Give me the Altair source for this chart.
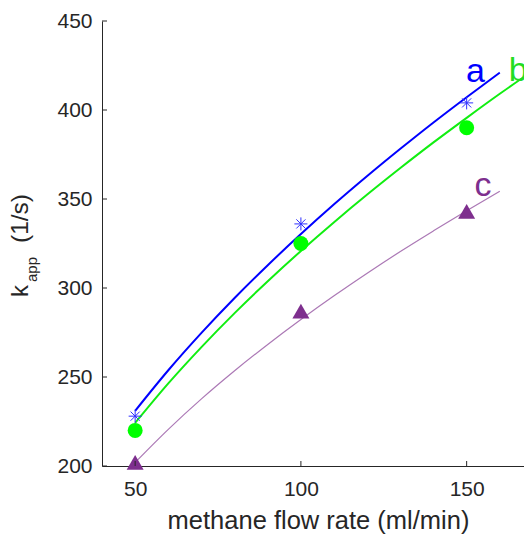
import altair as alt
import pandas as pd

# ---- data ----
curve_x = [50, 60, 70, 80, 90, 100, 110, 120, 130, 140, 150, 160]
curve_a = [231.0, 253.8, 274.8, 294.4, 312.8, 330.3, 347.0, 362.9, 378.2, 393.0, 407.2, 421.0]
curve_b_x = [50, 60, 70, 80, 90, 100, 110, 120, 130, 140, 150, 160, 170]
curve_b = [224.2, 246.4, 266.8, 285.9, 303.8, 320.8, 337.0, 352.5, 367.4, 381.8, 395.6, 409.1, 422.1]
curve_c = [202.0, 220.6, 237.7, 253.5, 268.3, 282.3, 295.6, 308.3, 320.5, 332.1, 343.4, 354.3]

flow = [50, 100, 150]
meas_a = [228, 336, 404]
meas_b = [220, 325, 390]
meas_c = [202, 287, 343]

label_text = ["a", "b", "c"]
label_x = [149.8, 162.7, 152.4]
label_y = [415.7, 416.2, 351.5]

x_ticks = [50, 100, 150]
y_ticks = [200, 250, 300, 350, 400, 450]

BLUE = "#0000FF"
GREEN = "#00FF00"
PURPLE = "#7E2F8E"
AX = "#262626"
FONT = "Liberation Sans"

W, H = 422, 445
xs = alt.Scale(domain=[40, 167.3], nice=False, zero=False)
ys = alt.Scale(domain=[200, 450], nice=False, zero=False)

x_axis = alt.Axis(values=x_ticks, ticks=False, grid=False, domainColor=AX,
                  labelFont=FONT, labelFontSize=21, labelColor=AX, labelPadding=12,
                  title="methane flow rate (ml/min)", titleFont=FONT, titleFontSize=25.5,
                  titleFontWeight="normal", titleColor=AX, titleX=216, titleY=62,
                  titleBaseline="alphabetic", titleAlign="center")
y_axis = alt.Axis(values=y_ticks, ticks=False, grid=False, domainColor=AX,
                  labelFont=FONT, labelFontSize=21, labelColor=AX, labelPadding=10,
                  title=None)

dfa = pd.DataFrame({"x": curve_x, "y": curve_a})
dfb = pd.DataFrame({"x": curve_b_x, "y": curve_b})
dfc = pd.DataFrame({"x": curve_x, "y": curve_c})
dma = pd.DataFrame({"x": flow, "y": meas_a})
dmb = pd.DataFrame({"x": flow, "y": meas_b})
dmc = pd.DataFrame({"x": flow, "y": meas_c})
dl = pd.DataFrame({"t": label_text, "x": label_x, "y": label_y,
                   "c": [BLUE, "#22DD22", PURPLE]})

def enc(ch):
    return ch.encode(x=alt.X("x:Q", scale=xs, axis=x_axis),
                     y=alt.Y("y:Q", scale=ys, axis=y_axis))

line_a = enc(alt.Chart(dfa).mark_line(color=BLUE, strokeWidth=2, clip=True,
                                      interpolate="monotone"))
line_b = enc(alt.Chart(dfb).mark_line(color="#11EE11", strokeWidth=2, clip=True,
                                      interpolate="monotone"))
line_c = enc(alt.Chart(dfc).mark_line(color=PURPLE, strokeWidth=1.2, opacity=0.65,
                                      clip=True, interpolate="monotone"))

asterisk = "M-1,0L1,0M0,-1L0,1M-0.7,-0.7L0.7,0.7M-0.7,0.7L0.7,-0.7"
pt_a = enc(alt.Chart(dma).mark_point(shape=asterisk, size=170, filled=False,
                                      color="#3030FF", strokeWidth=1, opacity=1))
pt_b = enc(alt.Chart(dmb).mark_point(shape="circle", size=225, filled=True,
                                      color=GREEN, opacity=1))
pt_c = enc(alt.Chart(dmc).mark_point(shape="triangle-up", size=289, filled=True,
                                      color=PURPLE, opacity=1))

labels = alt.Chart(dl).mark_text(font=FONT, fontSize=34, align="left",
                                 baseline="alphabetic").encode(
    x=alt.X("x:Q", scale=xs), y=alt.Y("y:Q", scale=ys),
    text="t:N", color=alt.Color("c:N", scale=None))

ytk = alt.Chart(pd.DataFrame({"v": y_ticks})).mark_rule(color=AX, strokeWidth=1).encode(
    y=alt.Y("v:Q", scale=ys), x=alt.value(0), x2=alt.value(5))
xtk = alt.Chart(pd.DataFrame({"v": x_ticks})).mark_rule(color=AX, strokeWidth=1).encode(
    x=alt.X("v:Q", scale=xs), y=alt.value(H), y2=alt.value(H - 5))

ytitle_parts = ["k", "app", "(1/s)"]
t_k = alt.Chart(pd.DataFrame({"t": [ytitle_parts[0]]})).mark_text(
    font=FONT, fontSize=24, angle=270, align="left", baseline="alphabetic", color=AX
).encode(text="t:N", x=alt.value(-74), y=alt.value(276))
t_app = alt.Chart(pd.DataFrame({"t": [ytitle_parts[1]]})).mark_text(
    font=FONT, fontSize=15, angle=270, align="left", baseline="alphabetic", color=AX
).encode(text="t:N", x=alt.value(-65), y=alt.value(261))
t_unit = alt.Chart(pd.DataFrame({"t": [ytitle_parts[2]]})).mark_text(
    font=FONT, fontSize=24.5, angle=270, align="left", baseline="alphabetic", color=AX
).encode(text="t:N", x=alt.value(-74), y=alt.value(222))

chart = alt.layer(
    line_c, line_b, line_a, pt_c, pt_b, pt_a, labels, ytk, xtk, t_k, t_app, t_unit
).properties(
    width=W, height=H,
    padding={"left": 102, "top": 21, "right": 0, "bottom": 69},
    autosize=alt.AutoSizeParams(type="none"),
    background="white",
).configure_view(stroke=None)

chart.save("out.html", embed_options={"renderer": "svg", "actions": False})
